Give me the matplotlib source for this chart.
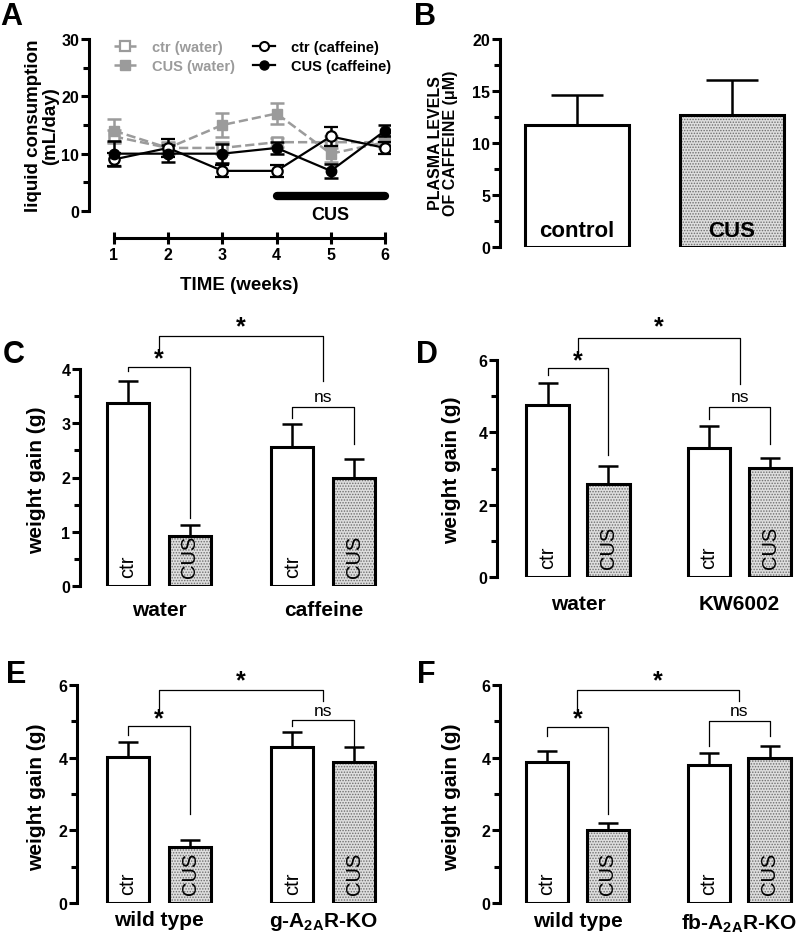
import matplotlib
matplotlib.use("Agg")
import matplotlib.pyplot as plt
from matplotlib.lines import Line2D
from matplotlib.ticker import MultipleLocator

plt.rcParams['font.family'] = ['Liberation Sans', 'DejaVu Sans']
plt.rcParams['font.weight'] = 'bold'
plt.rcParams['axes.labelweight'] = 'bold'
plt.rcParams['mathtext.fontset'] = 'custom'
plt.rcParams['mathtext.bf'] = 'Liberation Sans:bold'
plt.rcParams['mathtext.rm'] = 'Liberation Sans:bold'
plt.rcParams['hatch.linewidth'] = 0.7

# ── Panel A: liquid consumption ─────────────────────────────────────────────
weeks = [1, 2, 3, 4, 5, 6]
ctr_water = [13, 11, 11, 12, 12, 12]
ctr_water_err = [1.2, 0.8, 1.0, 0.8, 1.0, 0.8]
cus_water = [14, 11, 15, 17, 10, 12]
cus_water_err = [2.0, 1.0, 2.1, 1.9, 1.5, 1.0]
ctr_caff = [9, 11, 7, 7, 13, 11]
ctr_caff_err = [1.2, 1.5, 1.1, 1.0, 1.7, 1.0]
cus_caff = [10, 10, 10, 11, 7, 14]
cus_caff_err = [2.2, 1.5, 1.6, 1.0, 1.2, 1.0]
cus_period = [4, 6]

# ── Panel B: plasma caffeine ────────────────────────────────────────────────
plasma_groups = ["control", "CUS"]
plasma_vals = [11.7, 12.7]
plasma_err = [2.9, 3.4]

# ── Panels C-F: weight gain (ctr, CUS) x two treatments ─────────────────────
groups_C = ["water", "caffeine"]
vals_C = [3.37, 0.93, 2.57, 2.00]
err_C = [0.41, 0.20, 0.41, 0.34]

groups_D = ["water", "KW6002"]
vals_D = [4.76, 2.57, 3.56, 3.01]
err_D = [0.60, 0.51, 0.61, 0.27]

groups_E = ["wild type", r"g-A$_{\mathbf{2A}}$R-KO"]
vals_E = [4.03, 1.53, 4.29, 3.87]
err_E = [0.39, 0.21, 0.42, 0.41]

groups_F = ["wild type", r"fb-A$_{\mathbf{2A}}$R-KO"]
vals_F = [3.89, 2.01, 3.80, 3.98]
err_F = [0.30, 0.20, 0.32, 0.34]

bar_text = ["ctr", "CUS", "ctr", "CUS"]

W, H = 800, 937
fig = plt.figure(figsize=(W / 100, H / 100), dpi=100)


def px_axes(left, top, right, bottom):
    return fig.add_axes([left / W, 1 - bottom / H, (right - left) / W, (bottom - top) / H])


def style_left(ax, major, minor):
    for s in ("top", "right", "bottom"):
        ax.spines[s].set_visible(False)
    ax.spines["left"].set_linewidth(2.2)
    ax.yaxis.set_major_locator(MultipleLocator(major))
    ax.yaxis.set_minor_locator(MultipleLocator(minor))
    ax.tick_params(axis="y", which="major", length=6, width=2.2, labelsize=11.5, pad=1)
    ax.tick_params(axis="y", which="minor", length=4, width=2.2)


def dotted_bars(ax, x, h, w):
    ax.bar(x, h, w, facecolor="#dedede", edgecolor="#6e6e6e", hatch="......",
           linewidth=0, zorder=2)
    ax.bar(x, h, w, facecolor="none", edgecolor="black", linewidth=2.2, zorder=3)


def panel_letter(x, y, s):
    fig.text(x / W, 1 - y / H, s, fontsize=22, ha="left", va="top")


# ── A ──────────────────────────────────────────────────────────────────────
axA = px_axes(89, 40, 390, 212)
axA.set_xlim(0.539, 6.092)
axA.set_ylim(0, 30)
style_left(axA, 10, 5)
axA.spines["bottom"].set_visible(True)
axA.spines["bottom"].set_position(("outward", 19.5))
axA.spines["bottom"].set_bounds(1, 6)
axA.spines["bottom"].set_linewidth(2.2)
axA.set_xticks(weeks)
axA.tick_params(axis="x", direction="inout", length=9, width=2.2, labelsize=11.5, pad=2)

grey = "#9b9b9b"
axA.errorbar(weeks, ctr_water, yerr=ctr_water_err, color=grey, ls="--", lw=1.8,
             marker="s", ms=7, mfc="white", mec=grey, mew=1.8, capsize=4.8,
             capthick=1.8, elinewidth=1.8, zorder=2)
axA.errorbar(weeks, cus_water, yerr=cus_water_err, color=grey, ls="--", lw=1.8,
             marker="s", ms=7, mfc=grey, mec=grey, capsize=4.8, capthick=1.8,
             elinewidth=1.8, zorder=2)
axA.errorbar(weeks, ctr_caff, yerr=ctr_caff_err, color="black", ls="-", lw=1.6,
             marker="o", ms=7.5, mfc="white", mec="black", mew=1.6, capsize=4.8,
             capthick=1.8, elinewidth=1.8, zorder=3)
axA.errorbar(weeks, cus_caff, yerr=cus_caff_err, color="black", ls="-", lw=1.6,
             marker="o", ms=7.5, mfc="black", mec="black", capsize=4.8, capthick=1.8,
             elinewidth=1.8, zorder=3)
axA.plot(cus_period, [2.6, 2.6], color="black", lw=6, solid_capstyle="round",
         clip_on=False)
axA.text(sum(cus_period) / 2, -0.6, "CUS", fontsize=13, ha="center", va="center")
axA.set_xlabel("TIME (weeks)", fontsize=13.5, labelpad=10)
axA.set_ylabel("liquid consumption\n(mL/day)", fontsize=13.5, va="center",
               linespacing=1.0)
axA.yaxis.set_label_coords(-0.155, 0.5)

handles = [
    Line2D([], [], color=grey, ls="--", lw=1.8, marker="s", ms=6.5, mfc="white",
           mec=grey, mew=1.6),
    Line2D([], [], color=grey, ls="--", lw=1.8, marker="s", ms=6.5, mfc=grey, mec=grey),
    Line2D([], [], color="black", lw=1.6, marker="o", ms=6.5, mfc="white", mew=1.5),
    Line2D([], [], color="black", lw=1.6, marker="o", ms=6.5, mfc="black"),
]
labels = ["ctr (water)", "CUS (water)", "ctr (caffeine)", "CUS (caffeine)"]
leg = axA.legend(handles, labels, ncol=2, loc="upper left", bbox_to_anchor=(0.06, 1.035),
                 frameon=False, fontsize=10.5, handlelength=1.5, handletextpad=1.1,
                 columnspacing=1.2, labelspacing=0.35, borderpad=0)
for t in leg.get_texts()[:2]:
    t.set_color(grey)

# ── B ──────────────────────────────────────────────────────────────────────
axB = px_axes(500, 40, 800, 248)
axB.set_xlim(-0.494, 1.44)
axB.set_ylim(0, 20)
style_left(axB, 5, 2.5)
axB.set_xticks([])
xb = list(range(len(plasma_vals)))
axB.errorbar(xb, plasma_vals, yerr=[[0] * 2, plasma_err], fmt="none", ecolor="black",
             elinewidth=1.8, capsize=19, capthick=1.8, zorder=1)
axB.bar(xb[0], plasma_vals[0], 0.67, facecolor="white", edgecolor="black",
        linewidth=2.2, zorder=3)
dotted_bars(axB, xb[1], plasma_vals[1], 0.67)
for xi, g in zip(xb, plasma_groups):
    axB.text(xi, 1.6, g, fontsize=16, ha="center", va="center", zorder=4)
axB.set_ylabel("PLASMA LEVELS\nOF CAFFEINE (μM)", fontsize=11.5, va="center",
               linespacing=1.0)
axB.yaxis.set_label_coords(-0.19, 0.505)

# ── C-F ────────────────────────────────────────────────────────────────────
pos = [0, 1, 2.65, 3.65]
grp_pos = [0.5, 3.15]


def bracket(ax, x1, x2, ytop, yl, yr, label, ly, star=True):
    ax.plot([x1, x1, x2, x2], [yl, ytop, ytop, yr], color="black", lw=0.9,
            clip_on=False, zorder=5)
    if star:
        ax.text((x1 + x2) / 2, ly, label, fontsize=18, ha="center", va="center",
                clip_on=False)
    else:
        ax.text((x1 + x2) / 2, ly, label, fontsize=12.5, fontweight="normal",
                ha="center", va="center", clip_on=False)


def weight_panel(box, xlim, ymax, major, vals, errs, groups, width, label_xy,
                 brackets, pad):
    ax = px_axes(*box)
    ax.set_xlim(*xlim)
    ax.set_ylim(0, ymax)
    style_left(ax, major, major / 2)
    ax.errorbar(pos, vals, yerr=[[0] * 4, errs], fmt="none", ecolor="black",
                elinewidth=1.8, capsize=7.5, capthick=1.8, zorder=1)
    ax.bar([pos[0], pos[2]], [vals[0], vals[2]], width, facecolor="white",
           edgecolor="black", linewidth=2.2, zorder=3)
    dotted_bars(ax, [pos[1], pos[3]], [vals[1], vals[3]], width)
    for xi, t in zip(pos, bar_text):
        ax.text(xi, ymax * 0.04, t, rotation=90, fontsize=14.5, fontweight="normal",
                ha="center", va="bottom", zorder=4)
    ax.set_xticks(grp_pos)
    ax.set_xticklabels(groups, fontsize=15)
    ax.tick_params(axis="x", length=0, pad=pad)
    ax.set_ylabel("weight gain (g)", fontsize=15, va="center")
    ax.yaxis.set_label_coords(*label_xy)
    for b in brackets:
        bracket(ax, *b)
    return ax


weight_panel((80, 370, 385, 587), (-0.774, 4.145), 4, 1, vals_C, err_C, groups_C, 0.68,
             (-0.144, 0.493),
             [(0, 1, 4.04, 3.96, 1.25, "*", 4.2),
              (0.5, 3.15, 4.6, 4.39, 3.78, "*", 4.78),
              (2.65, 3.65, 3.30, 3.10, 2.61, "ns", 3.5, False)], 10)
weight_panel((497, 361, 800, 578), (-0.828, 4.14), 6, 2, vals_D, err_D, groups_D, 0.70,
             (-0.149, 0.498),
             [(0, 1, 5.79, 5.58, 3.36, "*", 6.0),
              (0.5, 3.15, 6.62, 6.22, 5.35, "*", 6.92),
              (2.65, 3.65, 4.70, 4.38, 3.69, "ns", 4.98, False)], 12)
weight_panel((77, 686, 385, 904), (-0.823, 4.145), 6, 2, vals_E, err_E, groups_E, 0.68,
             (-0.13, 0.49),
             [(0, 1, 4.86, 4.62, 2.45, "*", 5.07),
              (0.5, 3.15, 5.86, 5.38, 5.56, "*", 6.12),
              (2.65, 3.65, 5.03, 4.86, 4.28, "ns", 5.29, False)], 5)
weight_panel((500, 686, 800, 904), (-0.77, 4.15), 6, 2, vals_F, err_F, groups_F, 0.69,
             (-0.16, 0.49),
             [(0, 1, 4.85, 4.60, 2.45, "*", 5.07),
              (0.5, 3.15, 5.86, 5.38, 5.56, "*", 6.12),
              (2.65, 3.65, 5.01, 4.33, 4.60, "ns", 5.29, False)], 6)

for x, y, s in [(0, 2, "A"), (414, 2, "B"), (3, 340, "C"), (416, 340, "D"),
                (6, 660, "E"), (417, 660, "F")]:
    panel_letter(x, y, s)

fig.savefig("out.png", dpi=100)
